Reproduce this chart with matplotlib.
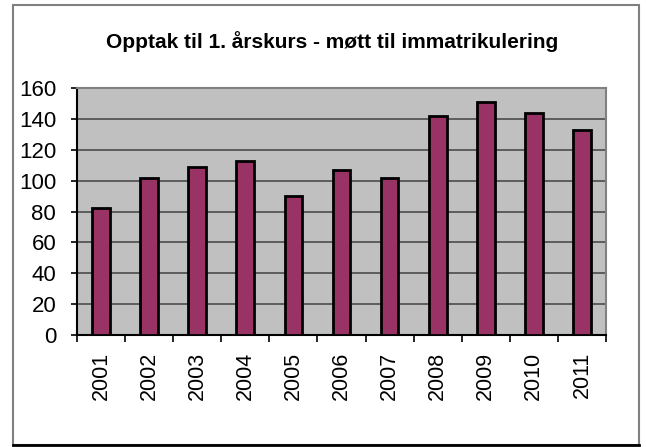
import matplotlib
matplotlib.use("Agg")
import matplotlib.pyplot as plt
from matplotlib.patches import Rectangle
from matplotlib.lines import Line2D

years = ['2001', '2002', '2003', '2004', '2005', '2006',
         '2007', '2008', '2009', '2010', '2011']
mott = [82, 102, 109, 113, 90, 107, 102, 142, 151, 144, 133]

plt.rcParams['font.family'] = ['Liberation Sans', 'DejaVu Sans']

fig = plt.figure(figsize=(6.46, 4.47), dpi=100)

# ramme rundt diagrammet
fig.patches.append(Rectangle((13/646, 1-445/447), (639-13)/646, (445-5)/447,
                             transform=fig.transFigure, fill=False,
                             edgecolor='#808080', linewidth=1.5))
fig.lines.append(Line2D([13/646, 639/646], [1-445/447, 1-445/447],
                        transform=fig.transFigure, color='black', linewidth=2))

ax = fig.add_axes([77/646, 1-335/447, (606-77)/646, (335-88)/447])
ax.set_facecolor('#C0C0C0')

x = range(len(years))
ax.bar(x, mott, width=0.37, color='#993366', edgecolor='black', linewidth=2,
       zorder=3)

ax.set_ylim(0, 160)
ax.set_xlim(-0.5, len(years) - 0.5)
ax.set_yticks(range(0, 161, 20))
ax.yaxis.grid(True, color='#555555', linewidth=1.3, zorder=1)
ax.set_axisbelow(True)

ax.set_xticks(list(x))
ax.set_xticklabels(years, rotation=90, fontsize=15.5)
ax.set_xticks([i - 0.5 for i in range(len(years) + 1)], minor=True)
ax.tick_params(axis='x', which='major', length=0, pad=12)
ax.tick_params(axis='x', which='minor', length=5, width=1.2, color='black',
               direction='out')
ax.tick_params(axis='y', labelsize=16, length=4, width=1.2, pad=11)

for s in ['top', 'right']:
    ax.spines[s].set_color('#808080')
    ax.spines[s].set_linewidth(1.5)
for s in ['left', 'bottom']:
    ax.spines[s].set_color('black')
    ax.spines[s].set_linewidth(1.5)

fig.text(332/646, 1-42/447, 'Opptak til 1. årskurs - møtt til immatrikulering',
         ha='center', va='center', fontsize=15, fontweight='bold')

fig.savefig('out.png', dpi=100)
